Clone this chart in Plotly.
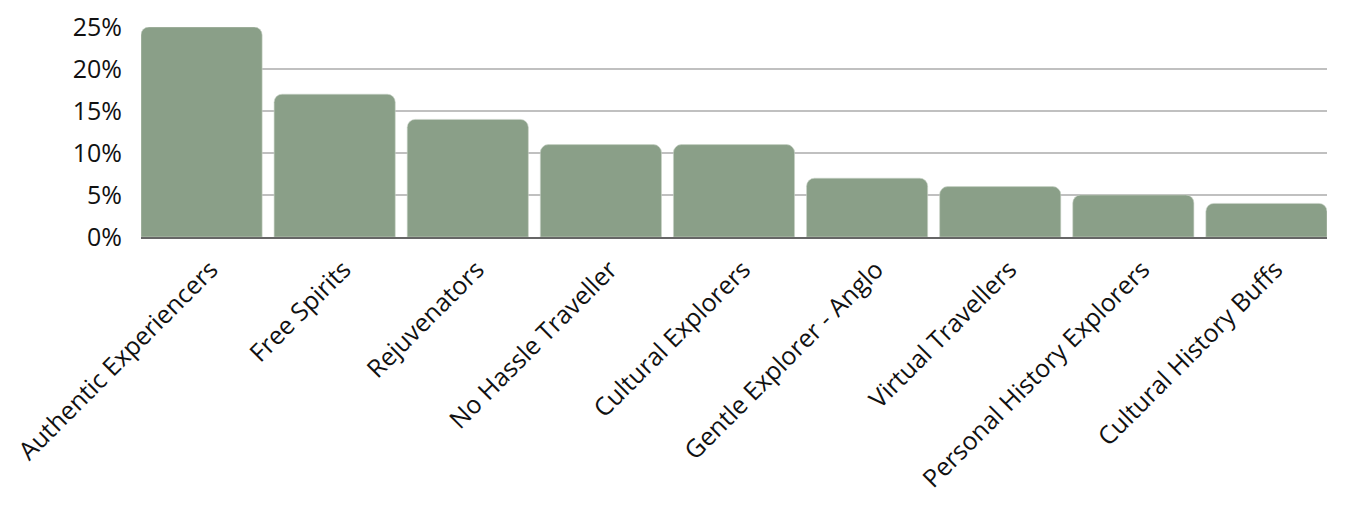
import plotly.graph_objects as go

segments = ["Authentic Experiencers", "Free Spirits", "Rejuvenators",
            "No Hassle Traveller", "Cultural Explorers", "Gentle Explorer - Anglo",
            "Virtual Travellers", "Personal History Explorers", "Cultural History Buffs"]
shares = [25, 17, 14, 11, 11, 7, 6, 5, 4]
y_ticks = [0, 5, 10, 15, 20, 25]
y_labels = ["0%", "5%", "10%", "15%", "20%", "25%"]

gap = 0.09

fig = go.Figure(go.Bar(
    x=segments,
    y=shares,
    marker=dict(color="#8a9f88", cornerradius=8,
                line=dict(color="#c9d3c8", width=0.6)),
    hoverinfo="skip",
))

# the page body adds 8px around the figure, so the size and margins allow for it
fig.update_layout(
    width=1329, height=493,
    margin=dict(l=133, r=10, t=19, b=264),
    paper_bgcolor="white",
    plot_bgcolor="white",
    bargap=gap,
    showlegend=False,
    font=dict(family="Open Sans", size=25, color="#111111"),
)
fig.update_yaxes(
    range=[0, 25], tickmode="array", tickvals=y_ticks, ticktext=y_labels,
    showgrid=True, gridcolor="#c0c0c0", gridwidth=1.5,
    zeroline=False, showline=False, ticks="", ticklabelstandoff=18,
    automargin=False,
)
# first and last bar sit flush with the ends of the axis line
fig.update_xaxes(
    range=[-0.5 + gap / 2, len(segments) - 0.5 - gap / 2],
    tickangle=-45, showline=True, linecolor="#666666", linewidth=2,
    ticks="", showgrid=False, ticklabelstandoff=6, ticklabelshift=9,
    automargin=False,
)

fig.write_html("out.html")
